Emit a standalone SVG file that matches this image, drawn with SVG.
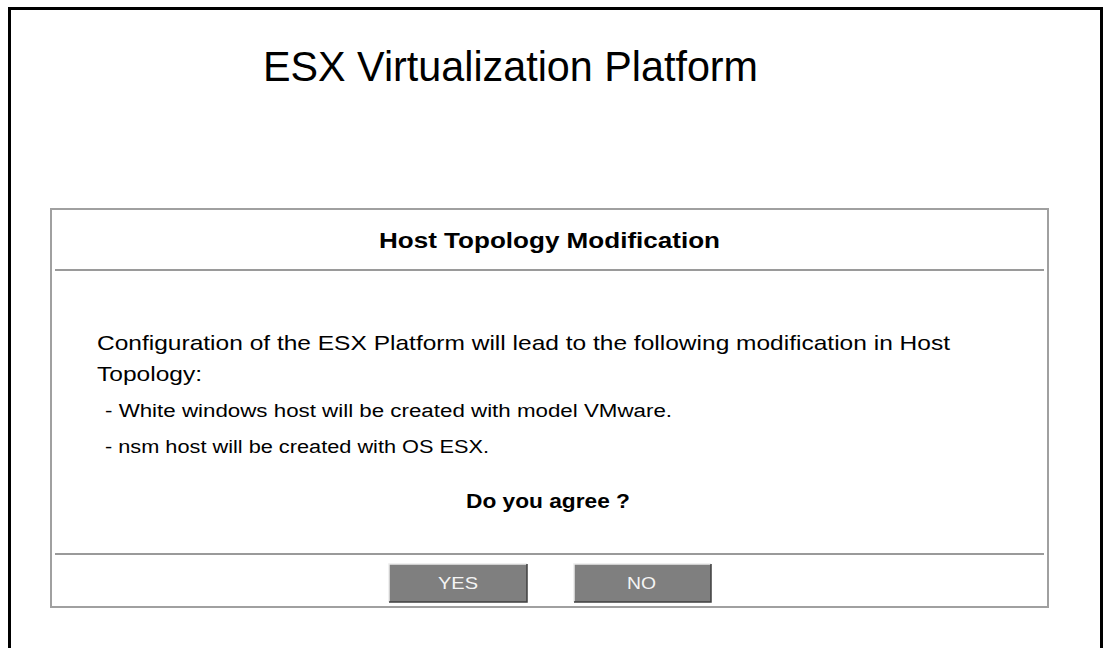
<svg xmlns="http://www.w3.org/2000/svg" width="1110" height="648" viewBox="0 0 1110 648">
<style>
text{font-family:"Liberation Sans",Arial,sans-serif;fill:#000}
.b{font-weight:bold}
.body{font-size:21px}
.bul{font-size:18px}
.btn{fill:#7f7f7f}
.btxt{fill:#f4f4f4;font-size:17px}
.rule{stroke:#9a9a9a;stroke-width:2}
</style>
<rect width="1110" height="648" fill="#ffffff"/>
<rect x="9.5" y="8.5" width="1092" height="700" fill="none" stroke="#000" stroke-width="3"/>
<text x="510.5" y="81" font-size="42" text-anchor="middle" textLength="495" lengthAdjust="spacingAndGlyphs">ESX Virtualization Platform</text>
<g id="dialog">
<rect x="51" y="209" width="997" height="398" fill="#fff" stroke="#a0a0a0" stroke-width="2"/>
<text class="b" x="549.5" y="248" font-size="22" text-anchor="middle" textLength="341" lengthAdjust="spacingAndGlyphs">Host Topology Modification</text>
<line class="rule" x1="55" y1="270" x2="1044" y2="270"/>
<text class="body" x="97" y="350" textLength="853" lengthAdjust="spacingAndGlyphs">Configuration of the ESX Platform will lead to the following modification in Host</text>
<text class="body" x="97" y="381" textLength="105" lengthAdjust="spacingAndGlyphs">Topology:</text>
<text class="bul" x="105" y="417" textLength="567" lengthAdjust="spacingAndGlyphs">- White windows host will be created with model VMware.</text>
<text class="bul" x="105" y="453" textLength="384" lengthAdjust="spacingAndGlyphs">- nsm host will be created with OS ESX.</text>
<text class="b" x="548" y="508" font-size="20" text-anchor="middle" textLength="164" lengthAdjust="spacingAndGlyphs">Do you agree ?</text>
<line class="rule" x1="55" y1="554" x2="1044" y2="554"/>
</g>
<g id="yes">
<rect class="btn" x="389" y="564" width="138" height="38"/>
<path d="M389 602V564H527" fill="none" stroke="#ececec" stroke-width="1.5"/>
<path d="M389 602H527V564" fill="none" stroke="#404040" stroke-width="1.5"/>
<text class="btxt" x="458" y="589" text-anchor="middle" textLength="40" lengthAdjust="spacingAndGlyphs">YES</text>
</g>
<g id="no">
<rect class="btn" x="574" y="564" width="137" height="38"/>
<path d="M574 602V564H711" fill="none" stroke="#ececec" stroke-width="1.5"/>
<path d="M574 602H711V564" fill="none" stroke="#404040" stroke-width="1.5"/>
<text class="btxt" x="641.5" y="589" text-anchor="middle" textLength="29" lengthAdjust="spacingAndGlyphs">NO</text>
</g>
<g id="connectors"/>
</svg>
